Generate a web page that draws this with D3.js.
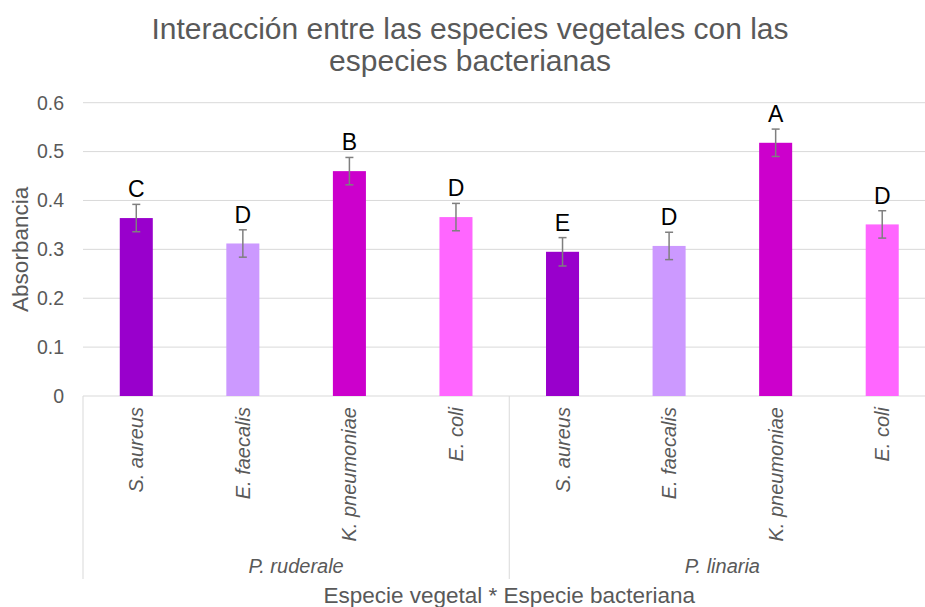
<!DOCTYPE html>
<html>
<head>
<meta charset="utf-8">
<script src="https://cdn.jsdelivr.net/npm/d3@7"></script>
<style>
  body { margin: 0; background: #fff; }
  svg { display: block; font-family: Arial, 'Liberation Sans', sans-serif; }
</style>
</head>
<body>
<svg width="925" height="607"></svg>
<script>
// chart data
const plants = ['P. ruderale', 'P. linaria'];
const bacteria = ['S. aureus', 'E. faecalis', 'K. pneumoniae', 'E. coli'];
const absorbance = [
  [0.364, 0.312, 0.460, 0.366],
  [0.295, 0.307, 0.518, 0.351],
];
const errors = [
  [0.028, 0.028, 0.028, 0.028],
  [0.029, 0.028, 0.028, 0.028],
];
const letters = [
  ['C', 'D', 'B', 'D'],
  ['E', 'D', 'A', 'D'],
];
const yTicks = [0, 0.1, 0.2, 0.3, 0.4, 0.5, 0.6];
const barColors = ['#9900CC', '#CC99FF', '#CC00CC', '#FF66FF'];

// flatten to one row per bar
const rows = [];
plants.forEach(function(p, i) {
  bacteria.forEach(function(b, j) {
    rows.push({
      id: i + '-' + j, plant: p, bact: b, j: j,
      value: absorbance[i][j], err: errors[i][j], letter: letters[i][j],
    });
  });
});

const svg = d3.select('svg');
const plotLeft = 83, plotRight = 935.5, plotTop = 102.7, plotBottom = 396;
const grey = '#595959', line = '#d9d9d9';

const x = d3.scaleBand().domain(rows.map(d => d.id)).range([plotLeft, plotRight]);
const xGroup = d3.scaleBand().domain(plants).range([plotLeft, plotRight]);
const y = d3.scaleLinear().domain([0, 0.6]).range([plotBottom, plotTop]);
const barW = x.bandwidth() * 0.31;

// gridlines
svg.append('g').selectAll('line').data(yTicks).join('line')
  .attr('x1', plotLeft).attr('x2', 925)
  .attr('y1', d => y(d)).attr('y2', d => y(d))
  .attr('stroke', line).attr('stroke-width', 1);

// y tick labels
svg.append('g').selectAll('text').data(yTicks).join('text')
  .attr('x', 64).attr('y', d => y(d)).attr('dy', '0.35em')
  .attr('text-anchor', 'end').attr('fill', grey).attr('font-size', 19.5)
  .text(d => d3.format('.1~f')(d));

// bars
svg.append('g').selectAll('rect').data(rows).join('rect')
  .attr('x', d => x(d.id) + (x.bandwidth() - barW) / 2)
  .attr('width', barW)
  .attr('y', d => y(d.value))
  .attr('height', d => y(0) - y(d.value))
  .attr('fill', d => barColors[d.j]);

// error bars
const eb = svg.append('g').attr('stroke', '#7f7f7f').attr('stroke-width', 1.5)
  .selectAll('g').data(rows).join('g')
  .attr('transform', d => 'translate(' + (x(d.id) + x.bandwidth() / 2) + ',0)');
eb.append('line').attr('y1', d => y(d.value - d.err)).attr('y2', d => y(d.value + d.err));
eb.append('line').attr('x1', -4).attr('x2', 4)
  .attr('y1', d => y(d.value + d.err)).attr('y2', d => y(d.value + d.err));
eb.append('line').attr('x1', -4).attr('x2', 4)
  .attr('y1', d => y(d.value - d.err)).attr('y2', d => y(d.value - d.err));

// significance letters
svg.append('g').selectAll('text').data(rows).join('text')
  .attr('x', d => x(d.id) + x.bandwidth() / 2)
  .attr('y', d => y(d.value + d.err) - 7)
  .attr('text-anchor', 'middle').attr('font-size', 23).attr('fill', '#000')
  .text(d => d.letter);

// category group separators
svg.append('g').selectAll('line').data([plotLeft, xGroup(plants[1]), plotRight]).join('line')
  .attr('x1', d => d).attr('x2', d => d)
  .attr('y1', plotBottom).attr('y2', 579)
  .attr('stroke', line).attr('stroke-width', 1);

// bacteria labels (rotated)
svg.append('g').selectAll('text').data(rows).join('text')
  .attr('transform', d => 'translate(' + (x(d.id) + x.bandwidth() / 2) + ',407) rotate(-90)')
  .attr('dy', '0.35em').attr('text-anchor', 'end')
  .attr('font-style', 'italic').attr('font-size', 20).attr('fill', grey)
  .text(d => d.bact);

// plant labels
svg.append('g').selectAll('text').data(plants).join('text')
  .attr('x', d => xGroup(d) + xGroup.bandwidth() / 2).attr('y', 573)
  .attr('text-anchor', 'middle').attr('font-style', 'italic')
  .attr('font-size', 20).attr('fill', grey)
  .text(d => d);

// axis titles
svg.append('text')
  .attr('x', (plotLeft + plotRight) / 2).attr('y', 603)
  .attr('text-anchor', 'middle').attr('font-size', 22.5).attr('fill', grey)
  .text('Especie vegetal * Especie bacteriana');

svg.append('text')
  .attr('transform', 'translate(20,' + ((plotTop + plotBottom) / 2) + ') rotate(-90)')
  .attr('dy', '0.35em').attr('text-anchor', 'middle')
  .attr('font-size', 22.5).attr('fill', grey)
  .text('Absorbancia');

// title
svg.append('text')
  .attr('x', 470).attr('y', 39)
  .attr('text-anchor', 'middle').attr('font-size', 30).attr('fill', grey)
  .selectAll('tspan')
  .data(['Interacción entre las especies vegetales con las', 'especies bacterianas'])
  .join('tspan')
  .attr('x', 470).attr('dy', (d, i) => i ? 32 : 0)
  .text(d => d);
</script>
</body>
</html>
